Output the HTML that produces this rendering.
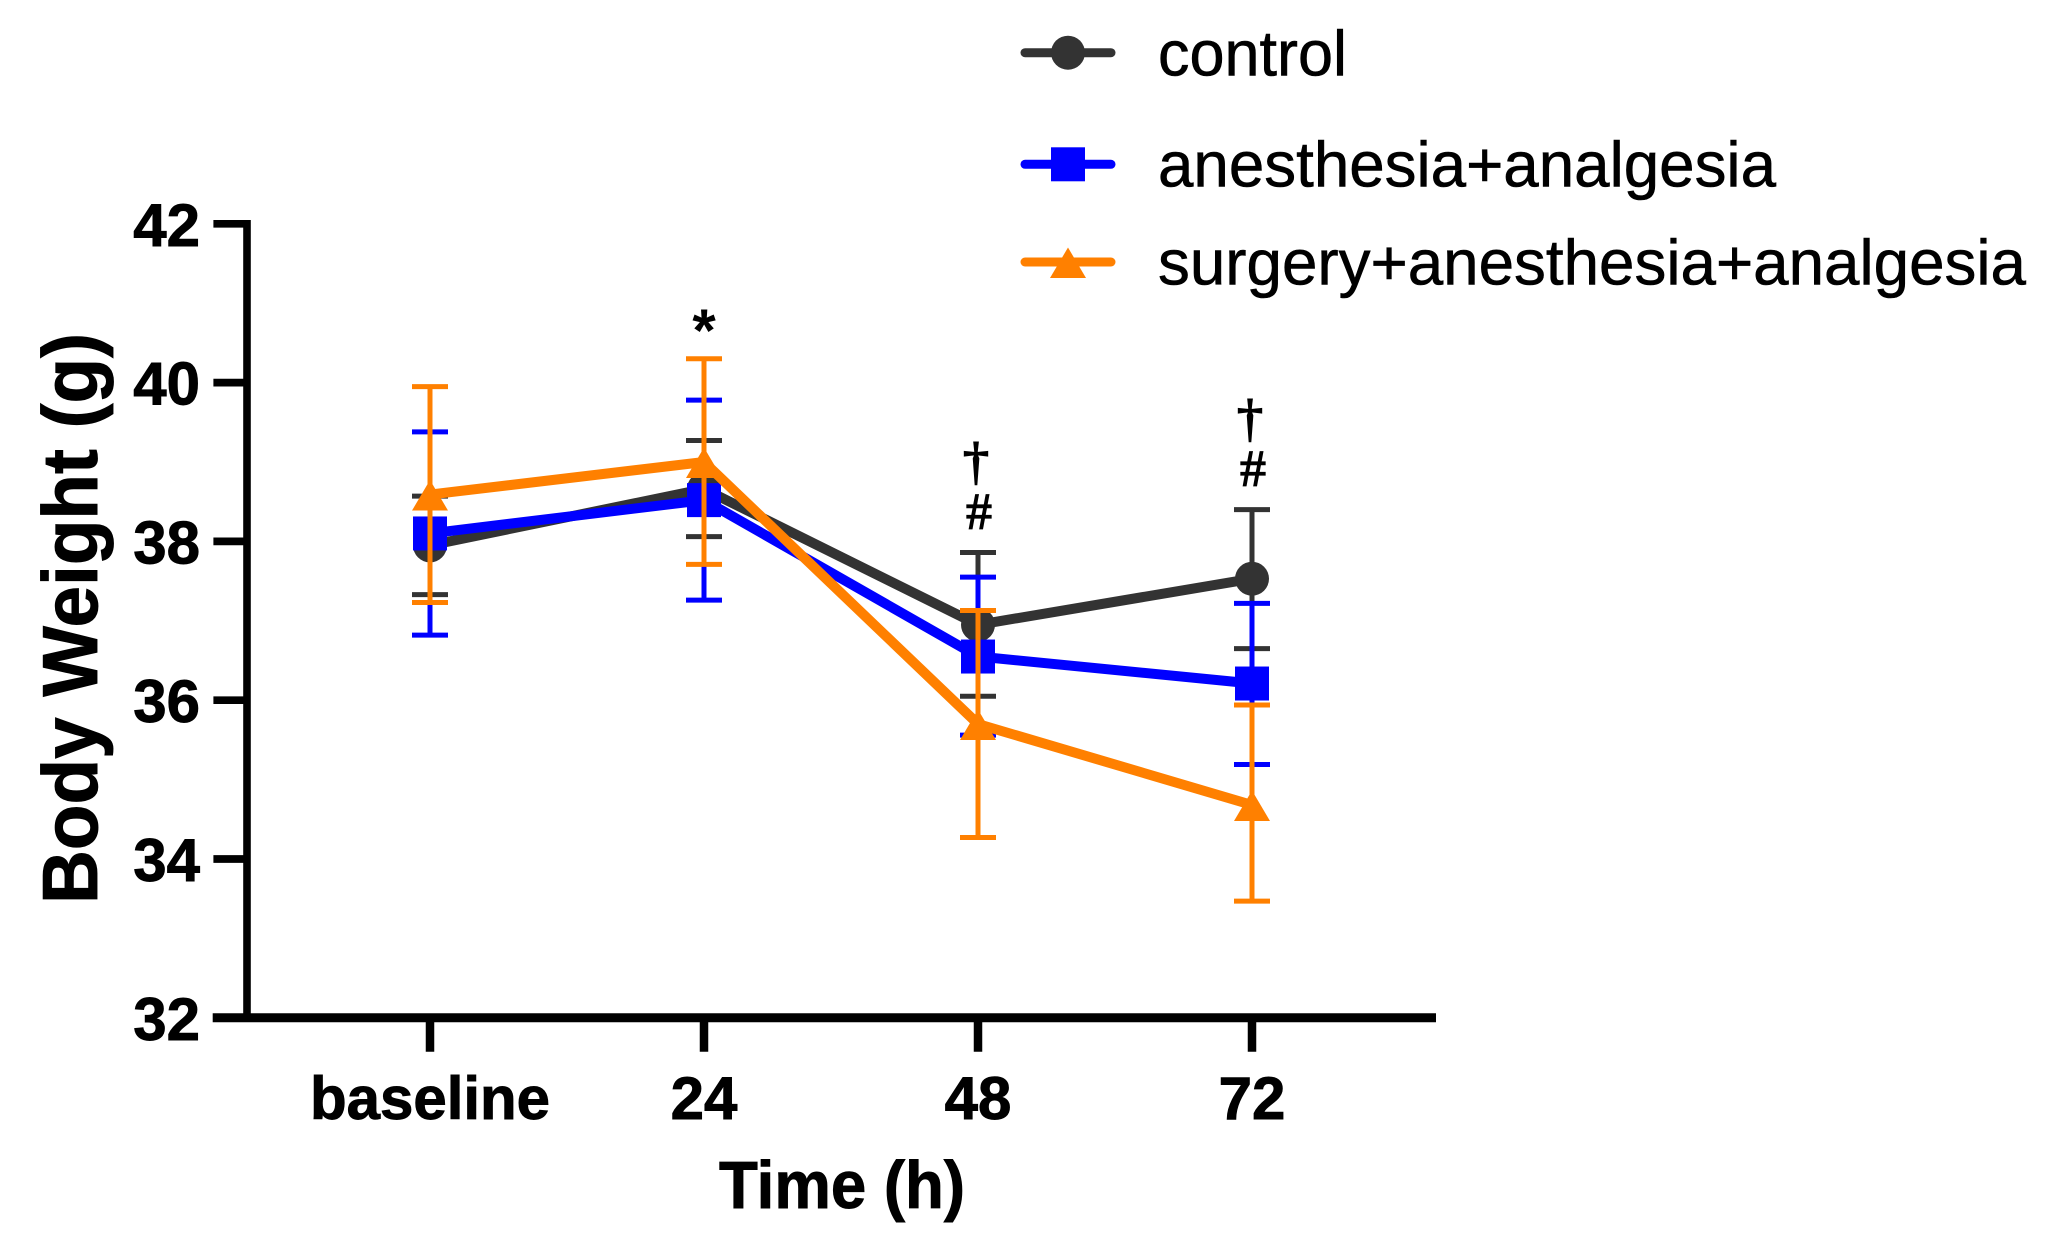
<!DOCTYPE html>
<html lang="en">
<head>
<meta charset="utf-8">
<title>Body Weight over Time</title>
<style>
html,body{margin:0;padding:0;background:#fff;width:2048px;height:1252px;overflow:hidden}
svg{display:block;font-family:"Liberation Sans",Arial,sans-serif}
</style>
</head>
<body>
<svg id="chart" xmlns="http://www.w3.org/2000/svg" width="2048" height="1252" viewBox="0 0 2048 1252">
  <rect x="0" y="0" width="2048" height="1252" fill="#ffffff"/>
  <text transform="translate(97,618.5) rotate(-90)" text-anchor="middle" font-size="78" font-weight="700" textLength="571" lengthAdjust="spacingAndGlyphs" fill="#000" stroke="#000" stroke-width="0.9">Body Weight (g)</text>
  <text x="842" y="1208" text-anchor="middle" font-size="67" font-weight="700" textLength="246" lengthAdjust="spacingAndGlyphs" fill="#000" stroke="#000" stroke-width="0.9">Time (h)</text>
</svg>
<script>
var categories = ['baseline', '24', '48', '72'];
var yTicks = [32, 34, 36, 38, 40, 42];
var controlMeans = [37.95, 38.66, 36.95, 37.53];
var controlUpper = [38.57, 39.27, 37.86, 38.40];
var controlLower = [37.33, 38.06, 36.05, 36.65];
var anesthesiaMeans = [38.10, 38.52, 36.55, 36.21];
var anesthesiaUpper = [39.38, 39.78, 37.55, 37.22];
var anesthesiaLower = [36.82, 37.26, 35.56, 35.19];
var surgeryMeans = [38.59, 39.00, 35.70, 34.68];
var surgeryUpper = [39.95, 40.30, 37.13, 35.94];
var surgeryLower = [37.23, 37.71, 34.27, 33.47];
var annotationSymbols = ['', '*', '#', '#'];
var annotationDaggers = ['', '', '\u2020', '\u2020'];

var NS = 'http://www.w3.org/2000/svg';
var svg = document.getElementById('chart');
function yScale(v) { return 223.8 + (42 - v) * 79.4; }
function xScale(i) { return 430 + i * 274; }
function make(tag, attrs) {
  var el = document.createElementNS(NS, tag);
  for (var k in attrs) { el.setAttribute(k, attrs[k]); }
  svg.appendChild(el);
  return el;
}

var yAxis = make('line', {x1: 247, x2: 247, y1: 220, y2: 1022, stroke: '#000', 'stroke-width': 7.6});


var xAxis = make('line', {x1: 212.7, x2: 1436, y1: yScale(32), y2: yScale(32), stroke: '#000', 'stroke-width': 9});



yTicks.forEach(function (t) {
  var y = yScale(t);
  var tick = make('line', {x1: 213.4, x2: 247, y1: y, y2: y, stroke: '#000', 'stroke-width': 7.7});
  
  
  var label = make('text', {x: 200, y: y + 22, 'text-anchor': 'end', 'font-size': 60, 'font-weight': 700, fill: '#000', stroke: '#000', 'stroke-width': 0.9});
  label.textContent = t;
  
  
});

categories.forEach(function (c, i) {
  var x = xScale(i);
  var tick = make('line', {x1: x, x2: x, y1: yScale(32), y2: 1051.7, stroke: '#000', 'stroke-width': 8.5});
  
  
  var label = make('text', {x: x, y: 1119, 'text-anchor': 'middle', 'font-size': 60, 'font-weight': 700, fill: '#000', stroke: '#000', 'stroke-width': 0.9});
  label.textContent = c;
  
  
});

function drawErrorBars(upper, lower, color, name) {
  categories.forEach(function (c, i) {
    var x = xScale(i), yu = yScale(upper[i]), yl = yScale(lower[i]);
    var bar = make('path', {
      d: 'M' + (x - 18) + ' ' + yu + 'H' + (x + 18) + 'M' + x + ' ' + yu + 'V' + yl + 'M' + (x - 18) + ' ' + yl + 'H' + (x + 18),
      fill: 'none', stroke: color, 'stroke-width': 5
    });
    
    
  });
}
function drawLine(means, color, name) {
  var pts = means.map(function (m, i) { return xScale(i) + ',' + yScale(m); }).join(' ');
  var line = make('polyline', {points: pts, fill: 'none', stroke: color, 'stroke-width': 10, 'stroke-linejoin': 'miter'});
  
  
}
function drawMarker(shape, x, y, color) {
  if (shape === 'circle') {
    return make('circle', {cx: x, cy: y, r: 17, fill: color});
  }
  if (shape === 'square') {
    return make('rect', {x: x - 17, y: y - 17, width: 34, height: 34, fill: color});
  }
  return make('polygon', {
    points: x + ',' + (y - 14.5) + ' ' + (x + 18) + ',' + (y + 16) + ' ' + (x - 18) + ',' + (y + 16),
    fill: color
  });
}
function drawSeries(means, upper, lower, color, shape, name) {
  drawLine(means, color, name);
  means.forEach(function (m, i) {
    var marker = drawMarker(shape, xScale(i), yScale(m), color);
    
    
  });
  drawErrorBars(upper, lower, color, name);
}
drawSeries(controlMeans, controlUpper, controlLower, '#333333', 'circle', 'control');
drawSeries(anesthesiaMeans, anesthesiaUpper, anesthesiaLower, '#0000ff', 'square', 'anesthesia');
drawSeries(surgeryMeans, surgeryUpper, surgeryLower, '#ff8000', 'triangle', 'surgery');

categories.forEach(function (c, i) {
  var top = yScale(Math.max(controlUpper[i], anesthesiaUpper[i], surgeryUpper[i]));
  var x = xScale(i);
  if (annotationSymbols[i] === '*') {
    var star = make('text', {x: x, y: top - 8, 'text-anchor': 'middle', 'font-size': 60, 'font-weight': 700, fill: '#000'});
    star.textContent = annotationSymbols[i];
    
    
  } else if (annotationSymbols[i]) {
    var hash = make('text', {x: x + 1, y: top - 24, 'text-anchor': 'middle', 'font-size': 52, 'font-family': '"Liberation Serif",serif', fill: '#000', stroke: '#000', 'stroke-width': 1.2});
    hash.textContent = annotationSymbols[i];
    
    
    var dag = make('text', {x: x - 2, y: top - 74, 'text-anchor': 'middle', 'font-size': 52, 'font-family': '"Liberation Serif",serif', fill: '#000', stroke: '#000', 'stroke-width': 1.6});
    dag.textContent = annotationDaggers[i];
    
    
  }
});

var legendNames = ['control', 'anesthesia+analgesia', 'surgery+anesthesia+analgesia'];
var legendColors = ['#333333', '#0000ff', '#ff8000'];
var legendShapes = ['circle', 'square', 'triangle'];
var legendY = [52.7, 164.3, 262];
var legendBase = [75.7, 186.7, 284.3];
var legendWidths = [189, 618, 868];
legendNames.forEach(function (n, i) {
  var line = make('line', {x1: 1025, x2: 1111, y1: legendY[i], y2: legendY[i], stroke: legendColors[i], 'stroke-width': 9, 'stroke-linecap': 'round'});
  
  
  var marker = drawMarker(legendShapes[i], 1068, legendY[i], legendColors[i]);
  
  
  var label = make('text', {x: 1158, y: legendBase[i], 'font-size': 64, fill: '#000', stroke: '#000', 'stroke-width': 0.6, textLength: legendWidths[i], lengthAdjust: 'spacingAndGlyphs'});
  label.textContent = n;
  
  
});
</script>
</body>
</html>
